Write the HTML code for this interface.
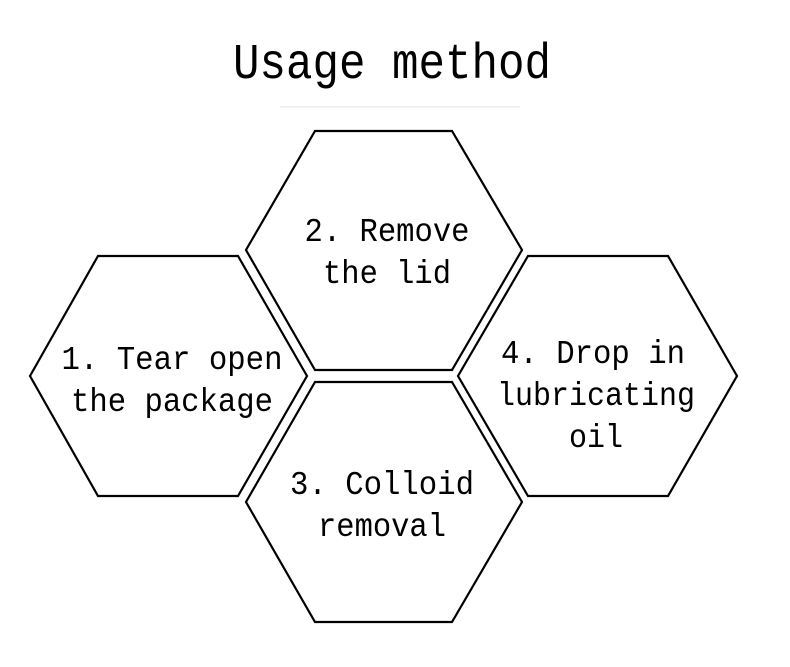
<!DOCTYPE html>
<html><head><style>
html,body{margin:0;padding:0;background:#fff;}
svg{display:block}
text{font-family:"Liberation Mono","Noto Sans CJK SC",monospace;fill:#000;text-anchor:middle}
</style></head><body>
<svg width="790" height="667" viewBox="0 0 790 667">
<text x="392" y="78" font-size="50" textLength="318" lengthAdjust="spacingAndGlyphs">Usage method</text>
<line x1="280" y1="107" x2="520" y2="107" stroke="#f0f0f0" stroke-width="2"/>
<g fill="none" stroke="#000" stroke-width="2.2" stroke-linejoin="miter">
<polygon points="98,256 238,256 307,376 238,496 98,496 30,376"/>
<polygon points="315,131 452,131 522,250 452,370 315,370 246,250"/>
<polygon points="315,382 452,382 522,502 452,622 315,622 246,502"/>
<polygon points="528,256 668,256 737,376 668,496 528,496 458,376"/>
</g>
<g font-size="33" lengthAdjust="spacingAndGlyphs">
<text x="172" y="369" textLength="221" lengthAdjust="spacingAndGlyphs">1. Tear open</text>
<text x="172" y="411" textLength="202" lengthAdjust="spacingAndGlyphs">the package</text>
<text x="387" y="241" textLength="165" lengthAdjust="spacingAndGlyphs">2. Remove</text>
<text x="387" y="283" textLength="128" lengthAdjust="spacingAndGlyphs">the lid</text>
<text x="382" y="494" textLength="184" lengthAdjust="spacingAndGlyphs">3. Colloid</text>
<text x="382" y="536" textLength="128" lengthAdjust="spacingAndGlyphs">removal</text>
<text x="593" y="363" textLength="184" lengthAdjust="spacingAndGlyphs">4. Drop in</text>
<text x="596" y="405" textLength="198" lengthAdjust="spacingAndGlyphs">lubricating</text>
<text x="596" y="447" textLength="54" lengthAdjust="spacingAndGlyphs">oil</text>
</g>
</svg>
</body></html>
